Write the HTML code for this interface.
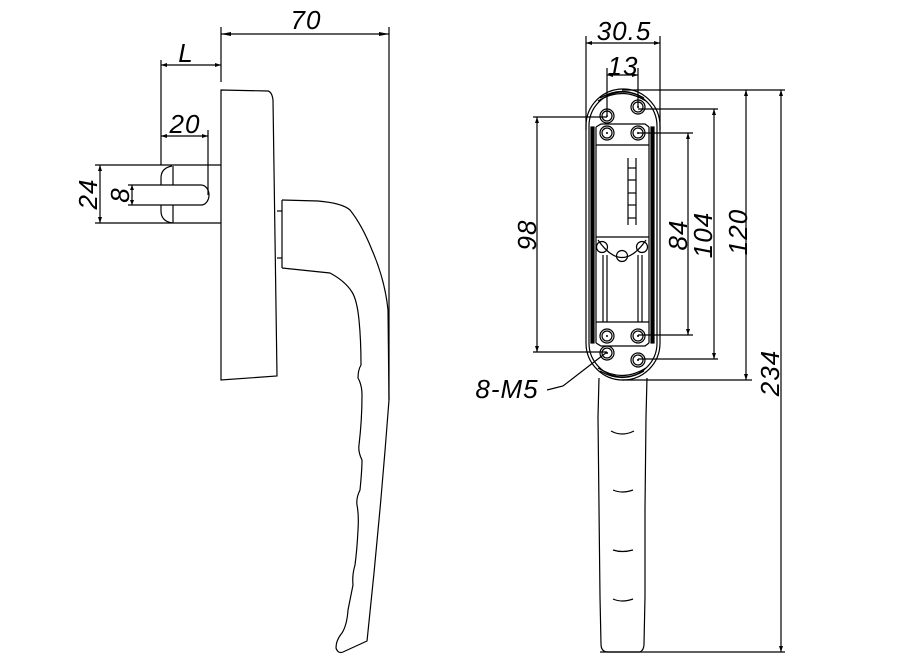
<!DOCTYPE html>
<html><head><meta charset="utf-8"><style>
html,body{margin:0;padding:0;background:#fff;}
svg{display:block}
text{font-family:"Liberation Sans",sans-serif;font-style:italic;font-size:26px;fill:#000;letter-spacing:1px;text-anchor:middle}
</style></head><body>
<svg width="923" height="657" viewBox="0 0 923 657" xmlns="http://www.w3.org/2000/svg">
<g fill="none" stroke="#000" stroke-width="1.2">
<!-- LEFT VIEW -->
<line x1="221" y1="27" x2="221" y2="82"/>
<line x1="389" y1="27" x2="389" y2="400"/>
<line x1="221" y1="34" x2="389" y2="34"/>
<line x1="161" y1="60" x2="161" y2="165"/>
<line x1="161" y1="65" x2="221" y2="65"/>
<line x1="208" y1="130" x2="208" y2="195"/>
<line x1="161" y1="136" x2="208" y2="136"/>
<line x1="95" y1="165" x2="221" y2="165"/>
<line x1="95" y1="223" x2="221" y2="223"/>
<line x1="100" y1="165" x2="100" y2="223"/>
<line x1="128" y1="185" x2="201" y2="185"/>
<line x1="128" y1="205" x2="201" y2="205"/>
<line x1="132" y1="185" x2="132" y2="205"/>
<path d="M201 185 A8 10 0 0 1 201 205"/>
<path d="M172 166 Q161 168 161 178 L161 185 M161 205 L161 211 Q161 221 172 223"/>
<line x1="173" y1="166" x2="173" y2="185"/>
<line x1="173" y1="205" x2="173" y2="223"/>
<path d="M221 90 L268 91 Q272 92 273 100 L277 376 L221 380 Z"/>
<line x1="282" y1="200" x2="282" y2="268"/>
<line x1="277" y1="211" x2="282" y2="211"/>
<line x1="277" y1="258" x2="282" y2="258"/>
<path d="M282 200 L318 201 Q342 203 350 210 Q362 225 372 250 Q385 280 388 310 L389 400 Q380 520 367 641 L343 652 Q338 654 336 648 Q336 640 342 633 Q347 625 348 610 Q351 595 353 585 Q352 575 355 565 Q357 550 358 530 Q359 515 357 505 Q356 498 360 490 Q362 470 362 460 Q358 452 359 445 Q362 420 362 395 Q362 385 358 378 Q358 370 361 365 Q361 340 359 320 Q357 300 352 292 Q345 281 330 273 L282 268"/>

<!-- RIGHT VIEW -->
<line x1="586" y1="36" x2="586" y2="130"/>
<line x1="660" y1="36" x2="660" y2="130"/>
<line x1="586" y1="43" x2="660" y2="43"/>
<line x1="607" y1="68" x2="607" y2="115"/>
<line x1="638" y1="68" x2="638" y2="107"/>
<line x1="607" y1="75" x2="638" y2="75"/>
<rect x="586" y="89" width="74" height="291" rx="37" ry="37"/>
<rect x="589" y="92" width="68" height="285" rx="34" ry="34"/>
<path d="M598 101 Q622 86 646 101 M600 98 Q622 85 644 98 M598 368 Q622 383 646 368 M600 371 Q622 384 644 371"/>
<rect x="591" y="127" width="3" height="216" fill="#000"/>
<rect x="651" y="127" width="3" height="216" fill="#000"/>
<line x1="596" y1="127" x2="596" y2="343"/>
<line x1="649" y1="127" x2="649" y2="343"/>
<line x1="596" y1="145" x2="649" y2="145"/>
<line x1="596" y1="237" x2="649" y2="237"/>
<line x1="596" y1="322" x2="649" y2="322"/>
<path d="M596 127 L601 124 L645 124 L649 127"/>
<path d="M596 343 L601 346 L645 346 L649 343"/>
<path d="M598 240 Q622 275 646 240"/>
<circle cx="602" cy="247" r="5.5"/>
<circle cx="622" cy="256" r="5.5"/>
<circle cx="642" cy="247" r="5.5"/>
<line x1="603" y1="255" x2="603" y2="322"/>
<line x1="607" y1="255" x2="607" y2="322"/>
<line x1="638" y1="255" x2="638" y2="322"/>
<line x1="642" y1="255" x2="642" y2="322"/>
<line x1="628" y1="158" x2="628" y2="225"/>
<line x1="636" y1="158" x2="636" y2="225"/>
<line x1="628" y1="168" x2="636" y2="168"/>
<line x1="628" y1="180" x2="636" y2="180"/>
<line x1="628" y1="193" x2="636" y2="193"/>
<line x1="628" y1="205" x2="636" y2="205"/>
<line x1="628" y1="218" x2="636" y2="218"/>
<g>
<circle cx="607" cy="116" r="7"/><circle cx="607" cy="133" r="7"/>
<circle cx="638" cy="107" r="7"/><circle cx="638" cy="133" r="7"/>
<circle cx="607" cy="336" r="7"/><circle cx="607" cy="353" r="7"/>
<circle cx="638" cy="336" r="7"/><circle cx="638" cy="360" r="7"/>
<circle cx="607" cy="116" r="5"/><circle cx="607" cy="133" r="5"/>
<circle cx="638" cy="107" r="5"/><circle cx="638" cy="133" r="5"/>
<circle cx="607" cy="336" r="5"/><circle cx="607" cy="353" r="5"/>
<circle cx="638" cy="336" r="5"/><circle cx="638" cy="360" r="5"/>
</g>
<g fill="#000" stroke="none">
<circle cx="607" cy="116" r="1"/><circle cx="607" cy="133" r="1"/>
<circle cx="638" cy="107" r="1"/><circle cx="638" cy="133" r="1"/>
<circle cx="607" cy="336" r="1"/><circle cx="607" cy="353" r="1"/>
<circle cx="638" cy="336" r="1"/><circle cx="638" cy="360" r="1"/>
</g>
<line x1="533" y1="117" x2="607" y2="117"/>
<line x1="533" y1="352" x2="607" y2="352"/>
<line x1="537" y1="117" x2="537" y2="352"/>
<line x1="638" y1="133" x2="693" y2="133"/>
<line x1="638" y1="335" x2="693" y2="335"/>
<line x1="688" y1="133" x2="688" y2="335"/>
<line x1="638" y1="109" x2="718" y2="109"/>
<line x1="638" y1="359" x2="718" y2="359"/>
<line x1="714" y1="109" x2="714" y2="359"/>
<line x1="622" y1="90" x2="785" y2="90"/>
<line x1="622" y1="380" x2="752" y2="380"/>
<line x1="746" y1="90" x2="746" y2="380"/>
<line x1="781" y1="90" x2="781" y2="652"/>
<line x1="600" y1="652" x2="785" y2="652"/>
<path d="M607 352 L563 386 L547 390"/>
<path d="M599 378 L598 417 L599 508 L600 597 L601 644 Q601 652 608 652 L640 652 Q644 650 644 644 L645 597 L645 508 L646 417 L647 378"/>
<path d="M611 431 Q622 437 634 431 M613 490 Q622 494 633 490 M613 550 Q622 553 633 550 M613 599 Q622 603 633 599"/>
</g>
<g fill="#000" stroke="none">
<path d="M221 34 l10 -2 v4z M389 34 l-10 -2 v4z"/>
<path d="M161 65 l6 -2 v4z M221 65 l-6 -2 v4z M161 136 l6 -2 v4z M208 136 l-6 -2 v4z"/>
<path d="M100 165 l-2 6 h4z M100 223 l-2 -6 h4z M132 185 l-2 5 h4z M132 205 l-2 -5 h4z"/>
<path d="M586 43 l6 -2 v4z M660 43 l-6 -2 v4z M607 75 l6 -2 v4z M638 75 l-6 -2 v4z"/>
<path d="M537 117 l-2 6 h4z M537 352 l-2 -6 h4z M688 133 l-2 6 h4z M688 335 l-2 -6 h4z M714 109 l-2 6 h4z M714 359 l-2 -6 h4z M746 90 l-2 6 h4z M746 380 l-2 -6 h4z M781 90 l-2 6 h4z M781 652 l-2 -6 h4z"/>
</g>
<text x="306" y="29">70</text>
<text x="186" y="62" font-size="20">L</text>
<text x="185" y="133">20</text>
<text transform="translate(97,194) rotate(-90)">24</text>
<text transform="translate(129,195) rotate(-90)">8</text>
<text x="624" y="40">30.5</text>
<text x="623" y="75">13</text>
<text transform="translate(536,235) rotate(-90)">98</text>
<text transform="translate(687,235) rotate(-90)">84</text>
<text transform="translate(712,235) rotate(-90)">104</text>
<text transform="translate(747,232) rotate(-90)">120</text>
<text transform="translate(779,373) rotate(-90)">234</text>
<text x="507" y="398">8-M5</text>
</svg>
</body></html>
